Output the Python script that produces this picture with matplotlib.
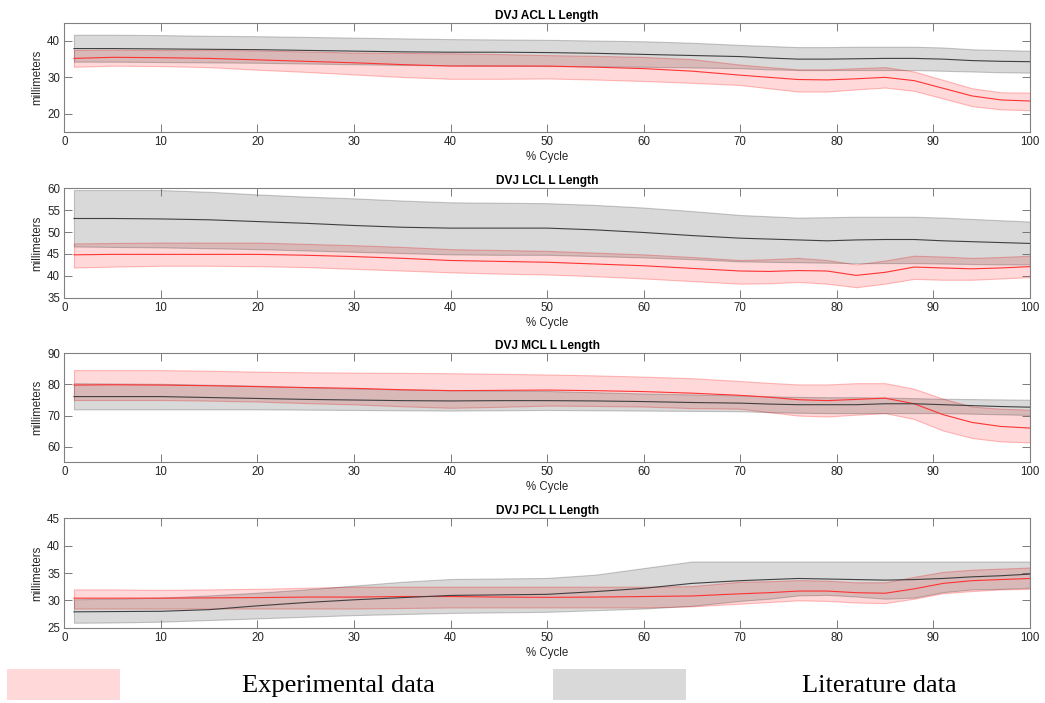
import numpy as np
import matplotlib.pyplot as plt
from matplotlib.patches import Rectangle

plt.rcParams['font.family'] = ['Liberation Sans', 'DejaVu Sans']

# % cycle sample positions
cycle = [1, 5, 10, 15, 20, 25, 30, 35, 40, 45, 50, 55, 60, 65, 70, 73, 76, 79, 82, 85, 88, 91, 94, 97, 100]

# ACL
acl_lit_mean = [37.9, 37.9, 37.8, 37.7, 37.6, 37.4, 37.2, 37.0, 36.9, 36.9, 36.8, 36.6, 36.3, 36.0, 35.7, 35.3, 35.0, 35.0, 35.1, 35.2, 35.2, 35.0, 34.6, 34.4, 34.3]
acl_lit_hi = [41.7, 41.7, 41.6, 41.4, 41.3, 41.1, 40.9, 40.7, 40.5, 40.4, 40.3, 40.1, 39.9, 39.5, 38.9, 38.6, 38.3, 38.3, 38.4, 38.4, 38.4, 38.2, 37.7, 37.5, 37.3]
acl_lit_lo = [34.3, 34.3, 34.2, 34.1, 34.0, 33.8, 33.6, 33.4, 33.3, 33.2, 33.1, 33.0, 32.9, 32.7, 32.5, 32.2, 32.0, 32.0, 32.0, 32.0, 32.0, 31.8, 31.6, 31.4, 31.3]
acl_exp_mean = [35.2, 35.5, 35.4, 35.2, 34.8, 34.4, 34.0, 33.5, 33.1, 33.1, 33.1, 32.8, 32.4, 31.7, 30.6, 30.0, 29.4, 29.3, 29.6, 30.0, 29.1, 27.0, 24.9, 23.8, 23.5]
acl_exp_hi = [37.5, 37.6, 37.5, 37.5, 37.4, 37.1, 36.8, 36.7, 36.6, 36.4, 36.1, 35.9, 35.6, 35.0, 33.5, 32.8, 32.2, 32.2, 32.5, 32.8, 31.6, 29.3, 27.0, 25.9, 25.8]
acl_exp_lo = [32.9, 33.2, 33.1, 32.8, 32.1, 31.5, 30.8, 30.1, 29.6, 29.6, 29.7, 29.4, 29.0, 28.5, 27.9, 27.0, 26.1, 26.1, 26.7, 27.2, 26.3, 24.2, 22.1, 21.2, 21.0]

# LCL
lcl_lit_mean = [53.1, 53.1, 53.0, 52.8, 52.4, 52.0, 51.5, 51.1, 50.9, 50.9, 50.9, 50.5, 49.9, 49.2, 48.6, 48.4, 48.2, 48.0, 48.2, 48.3, 48.3, 48.0, 47.8, 47.6, 47.4]
lcl_lit_hi = [59.6, 59.6, 59.6, 59.2, 58.6, 58.1, 57.7, 57.2, 56.8, 56.7, 56.6, 56.2, 55.6, 54.8, 53.9, 53.6, 53.3, 53.4, 53.5, 53.5, 53.5, 53.3, 53.0, 52.7, 52.4]
lcl_lit_lo = [46.7, 46.6, 46.5, 46.3, 46.1, 45.8, 45.5, 45.2, 44.9, 44.8, 44.8, 44.5, 44.2, 43.8, 43.3, 43.2, 43.1, 43.0, 42.9, 42.9, 42.9, 42.8, 42.7, 42.6, 42.6]
lcl_exp_mean = [44.8, 44.9, 44.9, 44.9, 44.9, 44.7, 44.4, 44.0, 43.5, 43.3, 43.1, 42.7, 42.3, 41.7, 41.1, 41.0, 41.2, 41.1, 40.1, 40.8, 42.0, 41.8, 41.6, 41.8, 42.1]
lcl_exp_hi = [47.4, 47.5, 47.6, 47.6, 47.6, 47.3, 47.0, 46.6, 46.1, 45.9, 45.7, 45.3, 44.9, 44.3, 43.6, 43.8, 44.1, 43.6, 42.6, 43.5, 44.6, 44.4, 44.1, 44.3, 44.6]
lcl_exp_lo = [41.9, 42.1, 42.3, 42.3, 42.2, 42.0, 41.6, 41.2, 40.8, 40.5, 40.3, 39.9, 39.4, 38.8, 38.2, 38.3, 38.6, 38.2, 37.4, 38.2, 39.3, 39.1, 39.1, 39.4, 39.7]

# MCL
mcl_lit_mean = [76.1, 76.1, 76.1, 75.8, 75.5, 75.2, 75.0, 74.8, 74.7, 74.8, 74.8, 74.7, 74.5, 74.2, 74.0, 73.7, 73.5, 73.5, 73.5, 73.8, 73.8, 73.5, 73.2, 72.9, 72.7]
mcl_lit_hi = [80.4, 80.3, 80.2, 79.9, 79.6, 79.1, 78.7, 78.4, 78.2, 78.0, 77.9, 77.5, 77.1, 76.8, 76.5, 76.2, 76.0, 75.9, 75.9, 75.8, 75.6, 75.4, 75.3, 75.2, 75.1]
mcl_lit_lo = [72.0, 72.0, 72.0, 72.0, 72.0, 71.9, 71.8, 71.7, 71.6, 71.7, 71.8, 71.7, 71.6, 71.5, 71.4, 71.1, 70.9, 70.8, 70.8, 70.8, 70.8, 70.8, 70.6, 70.4, 70.2]
mcl_exp_mean = [79.8, 79.9, 79.8, 79.6, 79.3, 79.0, 78.75, 78.3, 78.0, 78.1, 78.2, 78.0, 77.7, 77.2, 76.5, 75.9, 75.1, 74.8, 75.2, 75.6, 73.8, 70.3, 67.8, 66.5, 66.0]
mcl_exp_hi = [84.6, 84.6, 84.6, 84.4, 84.1, 83.9, 83.8, 83.7, 83.6, 83.4, 83.2, 82.9, 82.5, 82.0, 81.1, 80.5, 80.0, 80.0, 80.4, 80.4, 78.6, 75.4, 72.9, 72.2, 71.9]
mcl_exp_lo = [75.0, 75.0, 75.0, 74.8, 74.5, 74.0, 73.6, 73.0, 72.5, 72.8, 73.2, 73.1, 72.9, 72.4, 72.2, 71.1, 70.0, 69.7, 70.3, 70.8, 68.9, 65.2, 62.8, 61.7, 61.4]

# PCL
pcl_lit_mean = [27.9, 27.95, 28.0, 28.3, 29.0, 29.6, 30.1, 30.5, 30.9, 31.0, 31.1, 31.6, 32.2, 33.1, 33.6, 33.8, 34.0, 33.9, 33.8, 33.7, 33.8, 34.0, 34.3, 34.5, 34.8]
pcl_lit_hi = [30.2, 30.3, 30.5, 30.9, 31.4, 32.0, 32.7, 33.4, 33.9, 34.0, 34.1, 34.7, 35.9, 37.1, 37.1, 37.1, 37.1, 37.1, 37.1, 37.1, 37.1, 37.1, 37.1, 37.1, 37.1]
pcl_lit_lo = [25.9, 25.95, 26.1, 26.4, 26.7, 27.0, 27.3, 27.5, 27.7, 27.8, 27.9, 28.2, 28.5, 29.0, 29.9, 30.3, 30.9, 31.0, 30.7, 30.3, 30.5, 31.5, 32.0, 32.1, 32.3]
pcl_exp_mean = [30.4, 30.4, 30.4, 30.45, 30.5, 30.6, 30.6, 30.7, 30.7, 30.6, 30.55, 30.6, 30.7, 30.8, 31.2, 31.4, 31.7, 31.7, 31.4, 31.3, 32.1, 33.1, 33.6, 33.8, 34.0]
pcl_exp_hi = [32.0, 32.0, 31.9, 32.0, 32.1, 32.3, 32.5, 32.5, 32.5, 32.5, 32.5, 32.5, 32.5, 32.6, 33.4, 33.5, 33.7, 33.6, 33.3, 33.3, 34.3, 35.2, 35.6, 35.8, 36.0]
pcl_exp_lo = [28.5, 28.5, 28.5, 28.5, 28.5, 28.5, 28.5, 28.6, 28.7, 28.7, 28.7, 28.7, 28.7, 28.9, 29.4, 29.7, 30.0, 29.9, 29.6, 29.5, 30.3, 31.3, 31.7, 32.0, 32.1]

titles = ['DVJ ACL L Length', 'DVJ LCL L Length', 'DVJ MCL L Length', 'DVJ PCL L Length']
ylims = [(15, 45), (35, 60), (55, 90), (25, 45)]
yticks = [[20, 30, 40], [35, 40, 45, 50, 55, 60], [60, 70, 80, 90], [25, 30, 35, 40, 45]]

panels = [
    (acl_lit_mean, acl_lit_lo, acl_lit_hi, acl_exp_mean, acl_exp_lo, acl_exp_hi),
    (lcl_lit_mean, lcl_lit_lo, lcl_lit_hi, lcl_exp_mean, lcl_exp_lo, lcl_exp_hi),
    (mcl_lit_mean, mcl_lit_lo, mcl_lit_hi, mcl_exp_mean, mcl_exp_lo, mcl_exp_hi),
    (pcl_lit_mean, pcl_lit_lo, pcl_lit_hi, pcl_exp_mean, pcl_exp_lo, pcl_exp_hi),
]

# axes boxes in pixels (top, bottom)
W, H = 1045, 703
boxes = [(22.7, 132.0), (188.3, 297.7), (353.3, 462.3), (518.3, 627.7)]
left, right = 64.3, 1030.0

fig = plt.figure(figsize=(W / 100, H / 100), dpi=100)
x = np.array(cycle)

for i, (top, bot) in enumerate(boxes):
    ax = fig.add_axes([left / W, 1 - bot / H, (right - left) / W, (bot - top) / H])
    lm, llo, lhi, em, elo, ehi = panels[i]

    ax.fill_between(x, elo, ehi, facecolor=(1, 0, 0, 0.15), edgecolor=(1, 0, 0, 0.25), linewidth=0.8)
    ax.fill_between(x, llo, lhi, facecolor=(0, 0, 0, 0.15), edgecolor=(0, 0, 0, 0.2), linewidth=0.8)
    ax.plot(x, em, color=(1, 0.2, 0.2), linewidth=0.8)
    ax.plot(x, lm, color=(0.25, 0.25, 0.25), linewidth=0.8)

    ax.set_xlim(0, 100)
    ax.set_ylim(*ylims[i])
    ax.set_xticks(np.arange(0, 101, 10))
    ax.set_yticks(yticks[i])
    ax.tick_params(direction='in', length=6, width=0.6, color='0.4', labelsize=8.3,
                   labelcolor='0.15', top=True, right=True, pad=3)
    for s in ax.spines.values():
        s.set_color('0.5')
        s.set_linewidth(0.8)
    ax.set_title(titles[i], fontsize=8.6, fontweight='bold', pad=3)
    ax.set_xlabel('% Cycle', fontsize=8.3, color='0.15', labelpad=2)
    ax.set_ylabel('millimeters', fontsize=8.3, color='0.15', labelpad=3)

# legend strip at the bottom
fig.add_artist(Rectangle((7 / W, 1 - 700 / H), 113 / W, 31 / H, transform=fig.transFigure,
                         facecolor='#ffd9d9', edgecolor='none'))
fig.add_artist(Rectangle((553 / W, 1 - 700 / H), 133 / W, 31 / H, transform=fig.transFigure,
                         facecolor='#d9d9d9', edgecolor='none'))
fig.text(338 / W, 1 - 686 / H, 'Experimental data', fontsize=19, family='Liberation Serif',
         ha='center', va='center')
fig.text(879 / W, 1 - 686 / H, 'Literature data', fontsize=19, family='Liberation Serif',
         ha='center', va='center')

fig.savefig('out.png', dpi=100)
